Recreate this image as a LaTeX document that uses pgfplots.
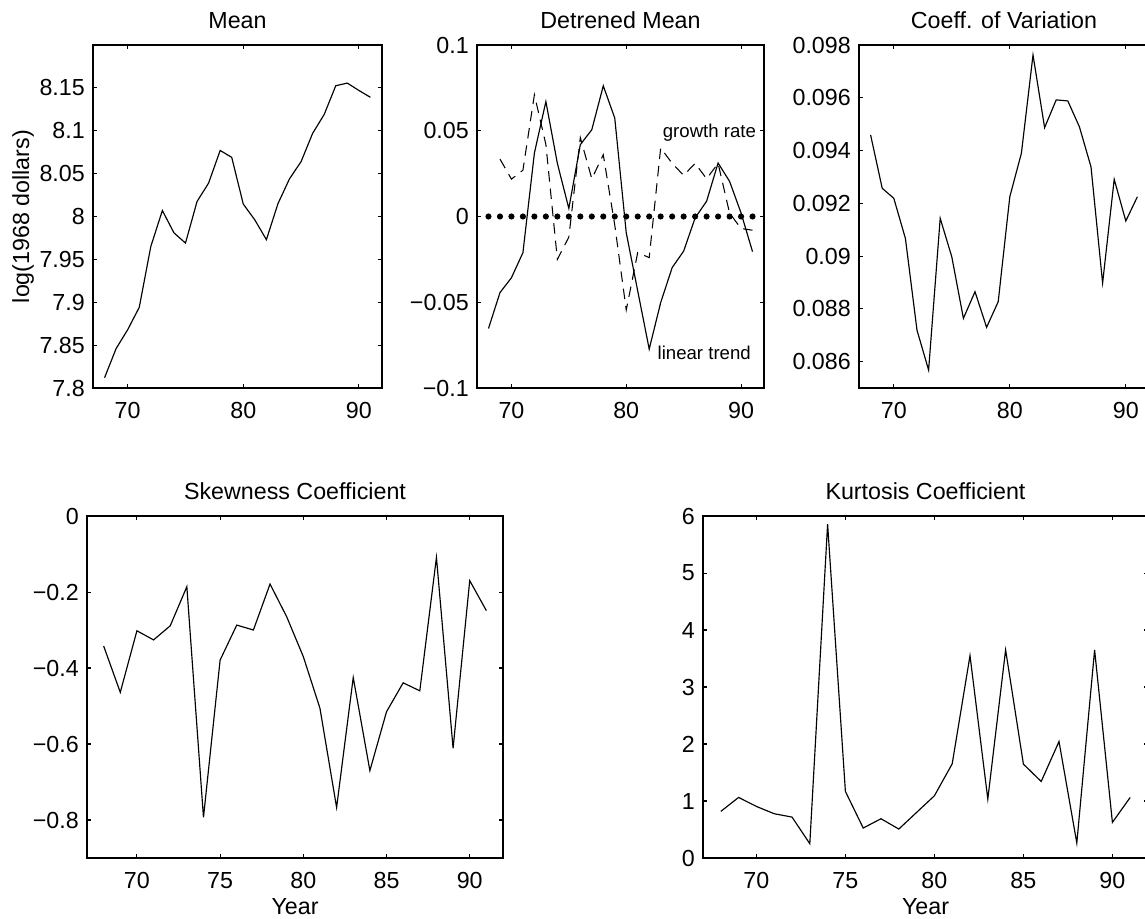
\documentclass[border=0pt]{standalone}
\usepackage{fontspec}
\setmainfont{Liberation Sans}
\usepackage{pgfplots}
\pgfplotsset{compat=1.18}
\begin{document}
\begin{tikzpicture}
\pgfplotsset{
  every axis/.append style={
    scale only axis, anchor=south west,
    xmin=67, xmax=92,
    scaled y ticks=false, scaled x ticks=false,
    tick align=inside, tick pos=both,
    major tick length=1.7pt,
    axis line style={line width=0.6pt},
    every tick/.style={line width=0.45pt, black},
    font=\fontsize{10}{12}\selectfont,
    ticklabel style={font=\fontsize{10}{12}\selectfont},
    title style={font=\fontsize{10}{12}\selectfont, yshift=-2.6pt},
    xticklabel style={yshift=-2.5pt},
    xlabel style={yshift=2.4pt},
  },
  dataline/.style={black, line width=0.5pt, no marks},
}
\path[use as bounding box, clip] (0,0) rectangle (492.35pt,394.74pt);

% ---------- Mean ----------
\begin{axis}[at={(39.99pt,227.9pt)}, width=124.27pt, height=147.49pt,
  ymin=7.8, ymax=8.2,
  xtick={70,80,90}, xticklabels={70,80,90},
  ytick={7.8,7.85,7.9,7.95,8,8.05,8.1,8.15},
  yticklabels={7.8,7.85,7.9,7.95,8,8.05,8.1,8.15},
  title={Mean}, ylabel={log(1968 dollars)},
  ylabel style={at={(axis description cs:-0.242,0.5)}, anchor=center}]
\addplot[dataline] coordinates {
(68,7.812) (69,7.846) (70,7.868) (71,7.894) (72,7.965) (73,8.007) (74,7.981)
(75,7.969) (76,8.0175) (77,8.039) (78,8.077) (79,8.069) (80,8.0145) (81,7.996)
(82,7.973) (83,8.015) (84,8.044) (85,8.064) (86,8.097) (87,8.119) (88,8.1525)
(89,8.1556) (90,8.147) (91,8.139)};
\end{axis}

% ---------- Detrened Mean ----------
\begin{axis}[at={(205.11pt,227.9pt)}, width=123.41pt, height=147.49pt,
  ymin=-0.1, ymax=0.1,
  xtick={70,80,90}, xticklabels={70,80,90},
  ytick={-0.1,-0.05,0,0.05,0.1},
  yticklabels={−0.1,−0.05,0,0.05,0.1},
  title={Detrened Mean}]
\addplot[dataline] coordinates {
(68,-0.0653) (69,-0.0444) (70,-0.0357) (71,-0.0211) (72,0.037) (73,0.067)
(74,0.031) (75,0.0047) (76,0.0419) (77,0.0506) (78,0.0762) (79,0.0574)
(80,-0.0095) (81,-0.0434) (82,-0.0773) (83,-0.0502) (84,-0.0298) (85,-0.0202)
(86,-0.0008) (87,0.0089) (88,0.0312) (89,0.0205) (90,0.0021) (91,-0.0205)};
\addplot[black, line width=0.45pt, no marks, dash pattern=on 4.5pt off 3pt] coordinates {
(69,0.0335) (70,0.0218) (71,0.027) (72,0.071) (73,0.042) (74,-0.025)
(75,-0.012) (76,0.046) (77,0.022) (78,0.036) (79,-0.005) (80,-0.0545)
(81,-0.021) (82,-0.024) (83,0.040) (84,0.031) (85,0.024) (86,0.031)
(87,0.022) (88,0.031) (89,0.002) (90,-0.007) (91,-0.008)};
\addplot[only marks, mark=*, mark size=1.1pt, black] coordinates {
(68,0) (69,0) (70,0) (71,0) (72,0) (73,0) (74,0) (75,0) (76,0) (77,0) (78,0)
(79,0) (80,0) (81,0) (82,0) (83,0) (84,0) (85,0) (86,0) (87,0) (88,0) (89,0)
(90,0) (91,0)};
\node[anchor=west, inner sep=0pt, font=\fontsize{8}{10}\selectfont] at (axis cs:83.15,0.049) {growth rate};
\node[anchor=west, inner sep=0pt, font=\fontsize{8}{10}\selectfont] at (axis cs:82.7,-0.0794) {linear trend};
\end{axis}

% ---------- Coeff. of Variation ----------
\begin{axis}[at={(369.37pt,227.9pt)}, width=124.7pt, height=147.49pt,
  ymin=0.085, ymax=0.098,
  xtick={70,80,90}, xticklabels={70,80,90},
  ytick={0.086,0.088,0.09,0.092,0.094,0.096,0.098},
  yticklabels={0.086,0.088,0.09,0.092,0.094,0.096,0.098},
  title={Coeff. of Variation}]
\addplot[dataline] coordinates {
(68,0.09459) (69,0.09257) (70,0.09219) (71,0.09067) (72,0.08719) (73,0.08568)
(74,0.09143) (75,0.08997) (76,0.08764) (77,0.08865) (78,0.08730) (79,0.08827)
(80,0.09225) (81,0.09390) (82,0.09762) (83,0.09487) (84,0.09592) (85,0.09588)
(86,0.09490) (87,0.09338) (88,0.08898) (89,0.09291) (90,0.09133) (91,0.09225)};
\end{axis}

% ---------- Skewness ----------
\begin{axis}[at={(37.41pt,25.8pt)}, width=178.88pt, height=147.06pt,
  ymin=-0.9, ymax=0,
  xtick={70,75,80,85,90}, xticklabels={70,75,80,85,90},
  ytick={-0.8,-0.6,-0.4,-0.2,0},
  yticklabels={−0.8,−0.6,−0.4,−0.2,0},
  title={Skewness Coefficient}, xlabel={Year}]
\addplot[dataline] coordinates {
(68,-0.342) (69,-0.464) (70,-0.302) (71,-0.326) (72,-0.289) (73,-0.186)
(74,-0.793) (75,-0.379) (76,-0.287) (77,-0.300) (78,-0.179) (79,-0.265)
(80,-0.370) (81,-0.506) (82,-0.767) (83,-0.425) (84,-0.670) (85,-0.515)
(86,-0.439) (87,-0.460) (88,-0.109) (89,-0.611) (90,-0.170) (91,-0.249)};
\end{axis}

% ---------- Kurtosis ----------
\begin{axis}[at={(302.29pt,25.8pt)}, width=191.35pt, height=147.06pt,
  ymin=0, ymax=6,
  xtick={70,75,80,85,90}, xticklabels={70,75,80,85,90},
  ytick={0,1,2,3,4,5,6},
  yticklabels={0,1,2,3,4,5,6},
  title={Kurtosis Coefficient}, xlabel={Year}]
\addplot[dataline] coordinates {
(68,0.818) (69,1.063) (70,0.905) (71,0.777) (72,0.718) (73,0.251)
(74,5.858) (75,1.168) (76,0.526) (77,0.689) (78,0.508) (79,0.800)
(80,1.092) (81,1.653) (82,3.551) (83,1.034) (84,3.651) (85,1.647)
(86,1.343) (87,2.044) (88,0.263) (89,3.651) (90,0.625) (91,1.063)};
\end{axis}
\end{tikzpicture}
\end{document}
